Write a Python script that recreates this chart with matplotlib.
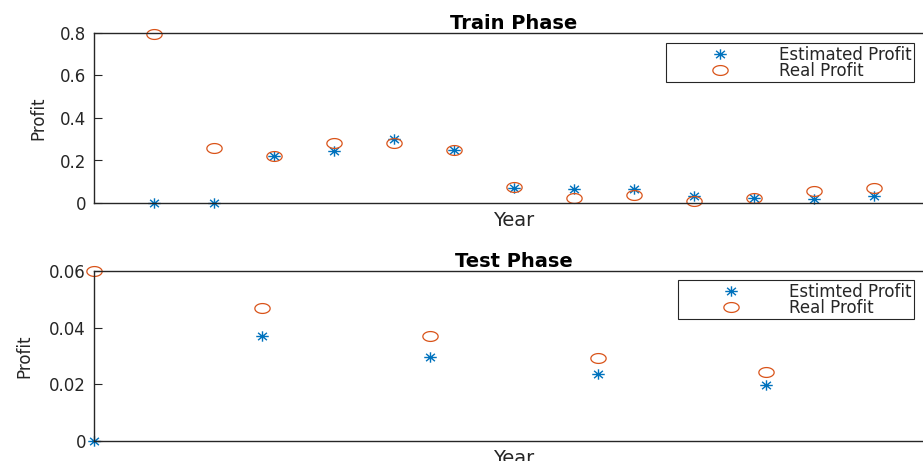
import matplotlib.pyplot as plt
import numpy as np
from matplotlib.path import Path

# Values
train_year = [1, 2, 3, 4, 5, 6, 7, 8, 9, 10, 11, 12, 13]
train_estimated = [0.0, 0.0, 0.223, 0.247, 0.300, 0.249, 0.072, 0.065, 0.068, 0.032, 0.025, 0.020, 0.035]
train_real = [0.795, 0.260, 0.223, 0.283, 0.281, 0.249, 0.075, 0.025, 0.038, 0.011, 0.025, 0.056, 0.072]

test_year = [0, 1, 2, 3, 4]
test_estimated = [0.0, 0.0369, 0.0298, 0.0237, 0.0196]
test_real = [0.060, 0.0469, 0.0371, 0.0293, 0.0242]

train_ticks = [0, 0.2, 0.4, 0.6, 0.8]
train_ticklabels = ['0', '0.2', '0.4', '0.6', '0.8']
test_ticks = [0, 0.02, 0.04, 0.06]
test_ticklabels = ['0', '0.02', '0.04', '0.06']

BLUE = '#0072BD'
ORANGE = '#D95319'
DARK = '#262626'

plt.rcParams['font.family'] = ['DejaVu Sans']

# the original picture is stretched sideways, so the markers are too
t = np.linspace(0, 2 * np.pi, 64)
ellipse = Path(np.column_stack([1.55 * np.cos(t), np.sin(t)]), closed=True)

star_verts = []
star_codes = []
for ang in [0, 45, 90, 135]:
    c, s = np.cos(np.radians(ang)), np.sin(np.radians(ang))
    star_verts += [(-1.2 * c, -s), (1.2 * c, s)]
    star_codes += [Path.MOVETO, Path.LINETO]
star = Path(star_verts, star_codes)


def draw_panel(ax, x, est, real, est_label, title, ticks, ticklabels, xmax):
    ax.plot(x, est, linestyle='none', marker=star, markersize=9,
            markeredgecolor=BLUE, markerfacecolor='none', markeredgewidth=1.0,
            label=est_label, clip_on=False)
    ax.plot(x, real, linestyle='none', marker=ellipse, markersize=11,
            markeredgecolor=ORANGE, markerfacecolor='none', markeredgewidth=0.9,
            label='Real Profit', clip_on=False)
    ax.set_xlim(0, xmax)
    ax.set_ylim(ticks[0], ticks[-1])
    ax.set_xticks([])
    ax.set_yticks(ticks)
    ax.set_yticklabels(ticklabels)
    ax.tick_params(axis='y', direction='in', length=6, width=0.8,
                   color=DARK, labelcolor=DARK, labelsize=12, pad=5.8)
    for sp in ax.spines.values():
        sp.set_color(DARK)
        sp.set_linewidth(1.0)
    ax.set_title(title, fontsize=14, fontweight='bold', pad=3)
    ax.set_xlabel('Year', fontsize=14, color=DARK)
    ax.xaxis.set_label_coords(0.5, -0.045)
    ax.set_ylabel('Profit', fontsize=12, color=DARK)


fig = plt.figure(figsize=(9.23, 4.61), dpi=100)

# both axes run past the right edge of the figure, as in the original
ax1 = fig.add_axes([94 / 923, 1 - 203 / 461, 840 / 923, 170 / 461])
draw_panel(ax1, train_year, train_estimated, train_real, 'Estimated Profit',
           'Train Phase', train_ticks, train_ticklabels, 14)
ax1.yaxis.set_label_coords(-0.055, 0.5)

ax2 = fig.add_axes([94 / 923, 1 - 441 / 461, 840 / 923, 170 / 461])
draw_panel(ax2, test_year, test_estimated, test_real, 'Estimted Profit',
           'Test Phase', test_ticks, test_ticklabels, 5)
ax2.yaxis.set_label_coords(-0.072, 0.5)

for ax, right, top, hl in [(ax1, 914, 43, 6.1), (ax2, 914, 280, 6.0)]:
    leg = ax.legend(loc='upper right', bbox_to_anchor=(right / 923, 1 - top / 461),
                    bbox_transform=fig.transFigure, borderaxespad=0,
                    fontsize=12, numpoints=1, handlelength=hl, handletextpad=0.5,
                    borderpad=0.15, labelspacing=-0.1, fancybox=False,
                    framealpha=1, edgecolor=DARK)
    leg.get_frame().set_linewidth(0.8)
    for txt in leg.get_texts():
        txt.set_color(DARK)

fig.savefig('out.png', dpi=100)
